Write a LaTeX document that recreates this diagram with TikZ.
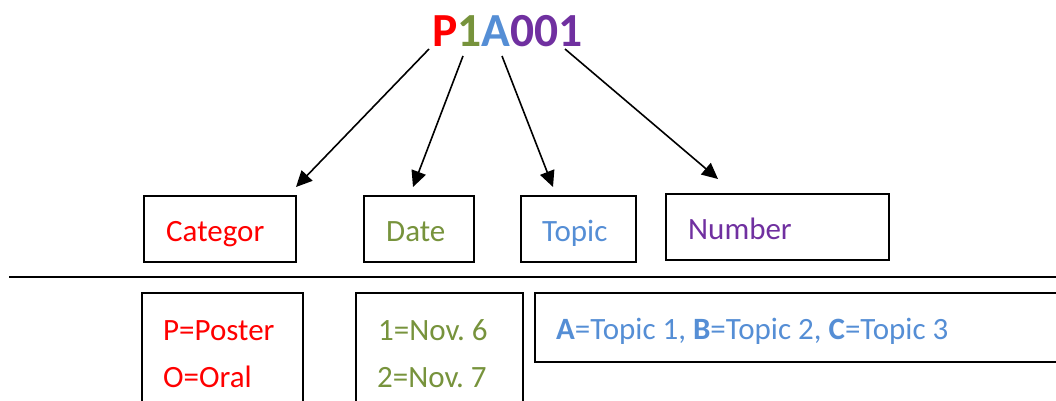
\documentclass[tikz,border=0pt]{standalone}
\usepackage{fontspec}
\setmainfont{Carlito}
\usetikzlibrary{arrows.meta}
\definecolor{cred}{HTML}{FF0000}
\definecolor{cgreen}{HTML}{77933C}
\definecolor{cblue}{HTML}{558ED5}
\definecolor{cpurple}{HTML}{7030A0}
\tikzset{
  box/.style={draw=black, line width=1.4pt, inner sep=0pt, rectangle},
  lbl/.style={anchor=base west, inner sep=0pt, font=\fontsize{31}{36}\selectfont},
  arr/.style={line width=1.6pt, -{Triangle[length=16pt,width=15pt]}},
}
\begin{document}
\begin{tikzpicture}[x=1pt,y=-1pt]
\useasboundingbox (0,0) rectangle (1056,401);
\clip (0,0) rectangle (1056,401);
% title
\node[anchor=base west, inner sep=0pt, font=\fontsize{47.5}{52}\selectfont\bfseries] (title) at (432,47)
  {\textcolor{cred}{P}\textcolor{cgreen}{1}\textcolor{cblue}{A}\textcolor{cpurple}{001}};
% top boxes
\node[box, minimum width=152pt, minimum height=66pt] (catbox) at (220,229) {};
\node[box, minimum width=110pt, minimum height=66pt] (datebox) at (419,229) {};
\node[box, minimum width=115pt, minimum height=66pt] (topicbox) at (578.5,229) {};
\node[box, minimum width=223pt, minimum height=66pt] (numbox) at (777.5,227) {};
\node[lbl, text=cred] (cat) at (166,241) {Categor};
\node[lbl, text=cgreen] (date) at (386,241) {Date};
\node[lbl, text=cblue] (topic) at (542,241) {Topic};
\node[lbl, text=cpurple] (num) at (688,239) {Number};
% separator
\coordinate (sepL) at (9,277);
\coordinate (sepR) at (1060,277);
\draw[line width=1.6pt] (sepL) -- (sepR);
% bottom boxes
\node[box, minimum width=161pt, minimum height=130pt] (pbox) at (222.5,358) {};
\node[box, minimum width=167pt, minimum height=130pt] (dbox) at (439.5,358) {};
\node[box, minimum width=540pt, minimum height=69pt] (tbox) at (805,327.5) {};
\node[lbl, text=cred] (poster) at (163,340) {P=Poster};
\node[lbl, text=cred] (oral) at (163,387) {O=Oral};
\node[lbl, text=cgreen] (nov6) at (378,340) {1=Nov.~6};
\node[lbl, text=cgreen] (nov7) at (377,387) {2=Nov.~7};
\node[lbl, text=cblue] (topics) at (556,339) {\textbf{A}=Topic 1, \textbf{B}=Topic 2, \textbf{C}=Topic 3};
% arrows
\coordinate (s1) at (429,49);
\coordinate (e1) at (296,187);
\coordinate (s2) at (463,56);
\coordinate (e2) at (413,187);
\coordinate (s3) at (502,56);
\coordinate (e3) at (553,187);
\coordinate (s4) at (565,49);
\coordinate (e4) at (718,179);
\draw[arr] (s1) -- (e1);
\draw[arr] (s2) -- (e2);
\draw[arr] (s3) -- (e3);
\draw[arr] (s4) -- (e4);
\end{tikzpicture}
\end{document}
